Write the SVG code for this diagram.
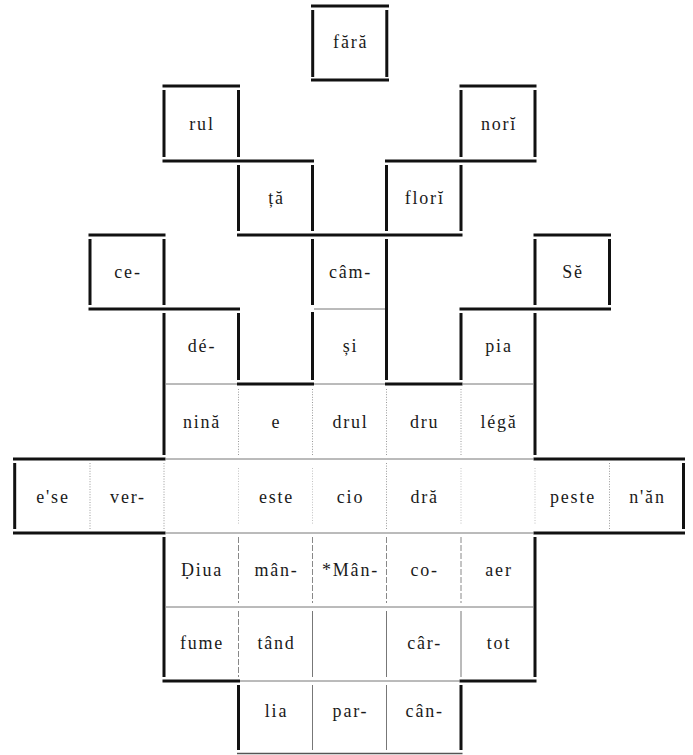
<svg xmlns="http://www.w3.org/2000/svg" width="693" height="755" viewBox="0 0 693 755">
<style>
.k{stroke:#111;stroke-width:3;stroke-linecap:butt;fill:none}
.t{stroke:#777;stroke-width:1;fill:none}
.d{stroke:#999;stroke-width:1;stroke-dasharray:1 1.6;fill:none}
.ds{stroke:#888;stroke-width:1;stroke-dasharray:6 2;fill:none}
.lbl text{text-anchor:middle}
</style>
<rect width="693" height="755" fill="#fff"/>
<g id="connectors">
<path class="k" d="M311 6H389M311 80H389
M162.5 86H240M459.5 86H536.5
M162.5 161H314M385 161H536.5
M88.5 235H165.5M237 235H462.5M533.5 235H611
M88.5 309H240M459.5 309H611
M237 384H314M385 384H462.5
M13 459H165.5M533.5 459H685
M13 533H165.5M533.5 533H685
M162.5 681H240M459.5 681H536.5"/>
<path d="M237 753.5H462.5" stroke="#555" stroke-width="1.6" fill="none"/>
<path class="k" d="M312.7 10V77M386.8 10V77
M164 90V157M238.5 90V157M461 90V157M535 90V157
M238.5 165V231M312.5 165V231M386.5 165V231M461 165V231
M90 239V305M164 239V305M312.5 239V305M386.5 239V380M535 239V305M609.5 239V305
M312.5 312V380
M164 313V455M238.5 313V380M461 313V380M535 313V455
M14.7 463V529M683.5 463V529
M164 537V677M535 537V677
M238.5 685V750M461 685V750"/>
<path class="t" d="M314 309H385M166 384H237M314 384H385M463 384H533.5"/>
<path class="t" d="M166 459H533.5M166 533H533.5M166 607H533.5M240 681H459.5"/>
<path class="d" d="M238.5 389V455M312.5 389V455M386.5 389V455M461 389V455"/>
<path class="d" d="M90 463V529M164 463V529M386.5 463V529M609.5 463V529"/>
<path class="d" stroke-opacity="0.6" d="M238.5 468V525M312.5 468V525M461 468V525M535 468V525"/>
<path class="ds" d="M238.5 537V603M312.5 537V603M386.5 537V603M461 537V603M238.5 611V677"/>
<path class="t" d="M312.5 611V677M386.5 611V677M461 611V677M312.5 685V750M386.5 685V750"/>
</g>
<g class="lbl" font-family="'Liberation Serif','Times New Roman','DejaVu Serif',serif" font-size="18" letter-spacing="1.8" fill="#1a1a1a">
<g id="n-fara"><text x="350.7" y="48">fără</text></g>
<g id="n-rul"><text x="202" y="130">rul</text></g>
<g id="n-nori"><text x="499" y="130">norĭ</text></g>
<g id="n-ta"><text x="276.5" y="204">ță</text></g>
<g id="n-flori"><text x="424.7" y="204">florĭ</text></g>
<g id="n-ce"><text x="128" y="278">ce-</text></g>
<g id="n-cam"><text x="350.5" y="278">câm-</text></g>
<g id="n-se"><text x="573" y="278">Sĕ</text></g>
<g id="n-de"><text x="202" y="352">dé-</text></g>
<g id="n-si"><text x="350.5" y="352">și</text></g>
<g id="n-pia"><text x="499" y="352">pia</text></g>
<g id="n-nina"><text x="202" y="427.5">nină</text></g>
<g id="n-e"><text x="276.5" y="427.5">e</text></g>
<g id="n-drul"><text x="350.5" y="427.5">drul</text></g>
<g id="n-dru"><text x="424.7" y="427.5">dru</text></g>
<g id="n-lega"><text x="499" y="427.5">légă</text></g>
<g id="n-ese"><text x="53" y="502.5">e'se</text></g>
<g id="n-ver"><text x="128" y="502.5">ver-</text></g>
<g id="n-este"><text x="276.5" y="502.5">este</text></g>
<g id="n-cio"><text x="350.5" y="502.5">cio</text></g>
<g id="n-dra"><text x="424.7" y="502.5">dră</text></g>
<g id="n-peste"><text x="573" y="502.5">peste</text></g>
<g id="n-nan"><text x="647.5" y="502.5">n'ăn</text></g>
<g id="n-diua"><text x="202" y="576">Ḍiua</text></g>
<g id="n-man"><text x="276.5" y="576">mân-</text></g>
<g id="n-Man"><text x="350.5" y="576">*Mân-</text></g>
<g id="n-co"><text x="424.7" y="576">co-</text></g>
<g id="n-aer"><text x="499" y="576">aer</text></g>
<g id="n-fume"><text x="202" y="649">fume</text></g>
<g id="n-tand"><text x="276.5" y="649">tând</text></g>
<g id="n-car"><text x="424.7" y="649">câr-</text></g>
<g id="n-tot"><text x="499" y="649">tot</text></g>
<g id="n-lia"><text x="276.5" y="716.5">lia</text></g>
<g id="n-par"><text x="350.5" y="716.5">par-</text></g>
<g id="n-can"><text x="424.7" y="716.5">cân-</text></g>
</g>
</svg>
